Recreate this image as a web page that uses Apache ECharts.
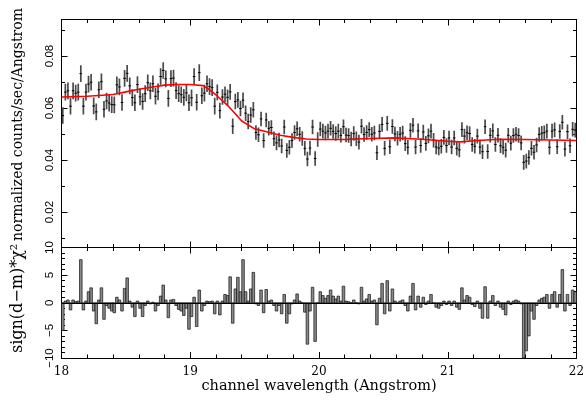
<!DOCTYPE html>
<html><head><meta charset="utf-8">
<script src="https://cdn.jsdelivr.net/npm/echarts@6/dist/echarts.min.js"></script>
<style>html,body{margin:0;padding:0;background:#fff}#c{width:586px;height:403px}</style>
</head><body><div id="c"></div>
<script>
// bin centres (Angstrom)
const wavelength = [
18.01,18.03,18.05,18.07,18.09,18.11,18.13,18.15,18.17,18.19,
18.21,18.23,18.25,18.27,18.29,18.31,18.33,18.35,18.37,18.39,
18.41,18.43,18.45,18.47,18.49,18.51,18.53,18.55,18.57,18.59,
18.61,18.63,18.65,18.67,18.69,18.71,18.73,18.75,18.77,18.79,
18.81,18.83,18.85,18.87,18.89,18.91,18.93,18.95,18.97,18.99,
19.01,19.03,19.05,19.07,19.09,19.11,19.13,19.15,19.17,19.19,
19.21,19.23,19.25,19.27,19.29,19.31,19.33,19.35,19.37,19.39,
19.41,19.43,19.45,19.47,19.49,19.51,19.53,19.55,19.57,19.59,
19.61,19.63,19.65,19.67,19.69,19.71,19.73,19.75,19.77,19.79,
19.81,19.83,19.85,19.87,19.89,19.91,19.93,19.95,19.97,19.99,
20.01,20.03,20.05,20.07,20.09,20.11,20.13,20.15,20.17,20.19,
20.21,20.23,20.25,20.27,20.29,20.31,20.33,20.35,20.37,20.39,
20.41,20.43,20.45,20.47,20.49,20.51,20.53,20.55,20.57,20.59,
20.61,20.63,20.65,20.67,20.69,20.71,20.73,20.75,20.77,20.79,
20.81,20.83,20.85,20.87,20.89,20.91,20.93,20.95,20.97,20.99,
21.01,21.03,21.05,21.07,21.09,21.11,21.13,21.15,21.17,21.19,
21.21,21.23,21.25,21.27,21.29,21.31,21.33,21.35,21.37,21.39,
21.41,21.43,21.45,21.47,21.49,21.51,21.53,21.55,21.57,21.59,
21.61,21.63,21.65,21.67,21.69,21.71,21.73,21.75,21.77,21.79,
21.81,21.83,21.85,21.87,21.89,21.91,21.93,21.95,21.97,21.99];

// normalized counts/sec/Angstrom
const flux = [
0.0571,0.0661,0.0666,0.0607,0.0666,0.0657,0.0661,0.0732,0.0607,0.0661,
0.0692,0.0699,0.0608,0.0585,0.0670,0.0701,0.0595,0.0627,0.0619,0.0613,
0.0612,0.0689,0.0681,0.0621,0.0714,0.0733,0.0685,0.0640,0.0620,0.0690,
0.0643,0.0625,0.0655,0.0697,0.0666,0.0693,0.0645,0.0662,0.0721,0.0744,
0.0712,0.0637,0.0713,0.0715,0.0667,0.0655,0.0651,0.0641,0.0658,0.0620,
0.0639,0.0721,0.0622,0.0736,0.0647,0.0657,0.0693,0.0682,0.0678,0.0607,
0.0660,0.0590,0.0642,0.0653,0.0641,0.0662,0.0530,0.0625,0.0631,0.0598,
0.0630,0.0580,0.0548,0.0573,0.0593,0.0506,0.0497,0.0558,0.0475,0.0554,
0.0522,0.0525,0.0482,0.0466,0.0477,0.0454,0.0527,0.0437,0.0449,0.0475,
0.0506,0.0520,0.0499,0.0483,0.0445,0.0404,0.0446,0.0527,0.0406,0.0479,
0.0519,0.0511,0.0504,0.0511,0.0522,0.0510,0.0502,0.0511,0.0495,0.0528,
0.0496,0.0494,0.0481,0.0502,0.0482,0.0469,0.0530,0.0498,0.0506,0.0517,
0.0499,0.0504,0.0428,0.0510,0.0537,0.0445,0.0541,0.0451,0.0529,0.0500,
0.0484,0.0499,0.0504,0.0463,0.0449,0.0514,0.0534,0.0450,0.0512,0.0456,
0.0508,0.0464,0.0493,0.0511,0.0476,0.0450,0.0446,0.0453,0.0487,0.0456,
0.0485,0.0450,0.0485,0.0445,0.0439,0.0517,0.0492,0.0505,0.0502,0.0460,
0.0453,0.0492,0.0450,0.0432,0.0528,0.0433,0.0495,0.0512,0.0460,0.0495,
0.0455,0.0449,0.0438,0.0495,0.0465,0.0494,0.0499,0.0494,0.0466,0.0391,
0.0396,0.0410,0.0445,0.0430,0.0458,0.0498,0.0503,0.0505,0.0511,0.0449,
0.0511,0.0516,0.0451,0.0510,0.0545,0.0442,0.0509,0.0455,0.0518,0.0515];

// 1-sigma errors
const fluxError = [
0.0032,0.0032,0.0032,0.0032,0.0032,0.0032,0.0032,0.0032,0.0032,0.0032,
0.0032,0.0032,0.0032,0.0032,0.0032,0.0032,0.0032,0.0032,0.0032,0.0032,
0.0032,0.0032,0.0032,0.0032,0.0032,0.0032,0.0032,0.0032,0.0032,0.0032,
0.0032,0.0032,0.0032,0.0032,0.0032,0.0032,0.0032,0.0032,0.0032,0.0032,
0.0032,0.0032,0.0032,0.0032,0.0032,0.0032,0.0032,0.0032,0.0032,0.0032,
0.0032,0.0032,0.0032,0.0032,0.0032,0.0032,0.0032,0.0032,0.0032,0.0032,
0.0030,0.0030,0.0030,0.0030,0.0030,0.0030,0.0030,0.0030,0.0030,0.0030,
0.0030,0.0030,0.0030,0.0030,0.0030,0.0028,0.0028,0.0028,0.0028,0.0028,
0.0028,0.0028,0.0028,0.0028,0.0028,0.0028,0.0028,0.0028,0.0028,0.0028,
0.0028,0.0028,0.0028,0.0028,0.0028,0.0028,0.0028,0.0028,0.0028,0.0028,
0.0028,0.0028,0.0028,0.0028,0.0028,0.0028,0.0028,0.0028,0.0028,0.0028,
0.0028,0.0028,0.0028,0.0028,0.0028,0.0028,0.0028,0.0028,0.0028,0.0028,
0.0028,0.0028,0.0028,0.0028,0.0028,0.0028,0.0028,0.0028,0.0028,0.0028,
0.0028,0.0028,0.0028,0.0028,0.0028,0.0028,0.0028,0.0028,0.0028,0.0028,
0.0028,0.0028,0.0028,0.0028,0.0028,0.0028,0.0028,0.0028,0.0028,0.0028,
0.0028,0.0028,0.0028,0.0028,0.0028,0.0028,0.0028,0.0028,0.0028,0.0028,
0.0028,0.0028,0.0028,0.0028,0.0028,0.0028,0.0028,0.0028,0.0028,0.0028,
0.0028,0.0028,0.0028,0.0028,0.0028,0.0028,0.0028,0.0028,0.0028,0.0028,
0.0028,0.0028,0.0028,0.0028,0.0028,0.0028,0.0028,0.0028,0.0028,0.0028,
0.0028,0.0028,0.0028,0.0028,0.0028,0.0028,0.0028,0.0028,0.0028,0.0028];

// sign(d-m)*chi^2 residuals
const residual = [
-5,0.3,0.5,-1.3,0.5,0.2,0.3,7.8,-1.3,0.3,
2,2.7,-1.5,-3.8,0.5,2.7,-3,-0.5,-1,-1.5,
-1.8,1,0.5,-1.5,2.6,4.5,0.3,-0.8,-2.5,0.3,
-1,-2.5,-0.5,0.3,-0.2,0.1,-1.5,-0.5,1.2,3.2,
0.5,-2.7,0.5,0.6,-0.5,-1.2,-1.5,-2.3,-1,-4.8,
-2.5,1,-4.3,2.3,-1.5,-0.5,0.3,0.2,0.3,-2,
0.3,-2.2,0.3,1.5,1.3,4.7,-3.7,2.5,4.6,2,
7.8,2,0.3,2.5,5.5,-0.2,-0.5,2.3,-1.8,2.4,
0.3,0.5,-0.5,-1.5,-0.5,-2,1.5,-3.7,-2,-0.2,
0.5,1.6,0.3,0,-1.7,-7.5,-1.5,2.8,-7,0,
2,1.3,0.8,1.3,2.3,1.2,0.7,1.2,0.3,3,
0.3,0.2,0,0.5,0,-0.2,2.8,0.3,0.7,1.5,
0.3,0.5,-4,0.8,3.5,-2,4,-1.5,2.5,0.3,
0,0.3,0.5,-0.5,-1.5,1.2,3.5,-1.3,1.2,-0.8,
1,-0.3,0.3,1.5,0,-0.8,-1,-0.5,0.3,-0.3,
0.3,-0.5,0.3,-0.8,-1.2,2.7,0.5,1.3,1,-0.3,
-0.7,0.3,-1,-2.8,2.9,-2.8,0.3,1.3,-0.5,0.3,
-0.8,-1.2,-2.2,0.3,-0.3,0.3,0.5,0.3,-0.2,-10,
-8.7,-6,-1.5,-3,-0.5,0.5,0.8,1,1.5,-1,
1.5,2,-0.8,1.5,6,-1.5,1.5,-0.5,2.3,2];

// model curve
const modelWave = [18.0,18.2,18.4,18.5,18.6,18.7,18.8,18.9,19.0,19.1,19.15,19.2,19.3,19.4,19.5,19.6,19.7,19.8,19.9,20.0,20.2,20.4,20.6,20.8,21.0,21.1,21.2,21.4,21.6,21.8,22.0];
const modelFlux = [0.0642,0.0645,0.0652,0.0662,0.0672,0.0680,0.0688,0.0690,0.0690,0.0686,0.0670,0.0650,0.0605,0.0550,0.0520,0.0508,0.0495,0.0487,0.0481,0.0479,0.0479,0.0483,0.0485,0.0480,0.0472,0.0470,0.0474,0.0480,0.0479,0.0477,0.0475];

// tick values
const xTicks = [18, 19, 20, 21, 22];
const fluxMajorTicks = [0.02, 0.04, 0.06, 0.08];
const fluxMinorTicks = [0.01, 0.03, 0.05, 0.07, 0.09];
const residTicks = [-10, -5, 0, 5, 10];

const halfBin = (wavelength[1] - wavelength[0]) / 2;
const specData = wavelength.map((w, i) => [w, flux[i], fluxError[i]]);
const residData = wavelength.map((w, i) => [w, residual[i]]);
const modelData = modelWave.map((w, i) => [w, modelFlux[i]]);

const SERIF = 'DejaVu Serif';
const SANS = 'Liberation Sans';
const BLACK = '#000';

function xAxisCfg(grid, pos, labels) {
  return {
    type: 'value', gridIndex: grid, position: pos, min: xTicks[0], max: xTicks[xTicks.length - 1], interval: 1,
    axisLine: {show: true, onZero: false, lineStyle: {color: BLACK, width: 1}},
    axisTick: {show: true, inside: true, length: 6, lineStyle: {color: BLACK, width: 1}},
    minorTick: {show: true, splitNumber: 5, length: 3.5, lineStyle: {color: BLACK, width: 1}},
    axisLabel: {show: labels, margin: 8, color: BLACK, fontFamily: SERIF, fontSize: 12},
    splitLine: {show: false}, minorSplitLine: {show: false}
  };
}
function fluxAxisCfg(pos, ticks, len, labels) {
  return {
    type: 'value', gridIndex: 0, position: pos, min: 0.0064, max: 0.094,
    axisLine: {show: true, onZero: false, lineStyle: {color: BLACK, width: 1}},
    axisTick: {show: true, inside: true, length: len, customValues: ticks, lineStyle: {color: BLACK, width: 1}},
    axisLabel: {show: labels, customValues: ticks, rotate: 90, margin: 6, color: BLACK, fontFamily: SANS, fontSize: 11.5,
      formatter: v => v.toFixed(2)},
    splitLine: {show: false}
  };
}
function residAxisCfg(pos, labels) {
  return {
    type: 'value', gridIndex: 1, position: pos, min: residTicks[0], max: residTicks[residTicks.length - 1], interval: 5,
    axisLine: {show: true, onZero: false, lineStyle: {color: BLACK, width: 1}},
    axisTick: {show: true, inside: true, length: 6, lineStyle: {color: BLACK, width: 1}},
    minorTick: {show: true, splitNumber: 5, length: 3.5, lineStyle: {color: BLACK, width: 1}},
    axisLabel: {show: labels, rotate: 90, margin: 6, color: BLACK, fontFamily: SANS, fontSize: 11.5,
      formatter: v => v < 0 ? '\u2212' + Math.abs(v) : String(v)},
    splitLine: {show: false}, minorSplitLine: {show: false}
  };
}

const chart = echarts.init(document.getElementById('c'), null, {renderer: 'canvas'});
chart.setOption({
  animation: false,
  backgroundColor: '#fff',
  grid: [
    {left: 61.5, top: 19.5, width: 515, height: 228, containLabel: false, outerBoundsMode: 'none'},
    {left: 61.5, top: 247.5, width: 515, height: 110.5, containLabel: false, outerBoundsMode: 'none'}
  ],
  xAxis: [
    xAxisCfg(0, 'bottom', false),
    xAxisCfg(0, 'top', false),
    xAxisCfg(1, 'bottom', true),
    xAxisCfg(1, 'top', false)
  ],
  yAxis: [
    fluxAxisCfg('left', fluxMajorTicks, 6, true),
    fluxAxisCfg('left', fluxMinorTicks, 3.5, false),
    fluxAxisCfg('right', fluxMajorTicks, 6, false),
    fluxAxisCfg('right', fluxMinorTicks, 3.5, false),
    residAxisCfg('left', true),
    residAxisCfg('right', false)
  ],
  graphic: [
    {type: 'text', x: 18, y: 8, rotation: Math.PI / 2, z: 10,
      style: {text: 'normalized counts/sec/Angstrom', font: '14px "DejaVu Serif"', fill: BLACK,
        align: 'right', verticalAlign: 'middle', textAlign: 'right', textVerticalAlign: 'middle'}},
    {type: 'text', x: 18, y: 353, rotation: Math.PI / 2, z: 11,
      style: {text: 'sign(d\u2212m)*\u03c7\u00b2', font: '16px "DejaVu Serif"', fill: BLACK, backgroundColor: '#fff',
        align: 'left', verticalAlign: 'middle', textAlign: 'left', textVerticalAlign: 'middle'}},
    {type: 'text', x: 319, y: 386, z: 10,
      style: {text: 'channel wavelength (Angstrom)', font: '14.5px "DejaVu Serif"', fill: BLACK,
        align: 'center', verticalAlign: 'middle', textAlign: 'center', textVerticalAlign: 'middle'}}
  ],
  series: [
    {
      type: 'custom', name: 'data', xAxisIndex: 0, yAxisIndex: 0, clip: true, z: 2,
      data: specData,
      renderItem: function (params, api) {
        const x = api.value(0), y = api.value(1), e = api.value(2);
        const t = api.coord([x, y + e]);
        const b = api.coord([x, y - e]);
        const l = api.coord([x - halfBin, y]);
        const r = api.coord([x + halfBin, y]);
        return {type: 'group', children: [
          {type: 'line', shape: {x1: t[0], y1: t[1], x2: b[0], y2: b[1]}, style: {stroke: '#4a4a4a', lineWidth: 1.7}},
          {type: 'line', shape: {x1: l[0], y1: l[1], x2: r[0], y2: r[1]}, style: {stroke: '#000', lineWidth: 1}}
        ]};
      }
    },
    {
      type: 'line', name: 'model', xAxisIndex: 0, yAxisIndex: 0, data: modelData, z: 5,
      symbol: 'none', smooth: false, lineStyle: {color: '#ff0000', width: 1.6}
    },
    {
      type: 'custom', name: 'residuals', xAxisIndex: 2, yAxisIndex: 4, clip: true, z: 2,
      data: residData,
      renderItem: function (params, api) {
        const x = api.value(0), v = api.value(1);
        const p1 = api.coord([x - halfBin, v]);
        const p0 = api.coord([x + halfBin, 0]);
        return {type: 'rect', shape: {x: p1[0], y: Math.min(p1[1], p0[1]), width: p0[0] - p1[0], height: Math.abs(p0[1] - p1[1])},
          style: {fill: '#8a8a8a', stroke: '#111', lineWidth: 0.7}};
      },
      markLine: {silent: true, symbol: 'none', label: {show: false}, data: [{yAxis: 0}],
        lineStyle: {color: BLACK, width: 1, type: 'solid'}}
    }
  ]
});
</script>
</body></html>
